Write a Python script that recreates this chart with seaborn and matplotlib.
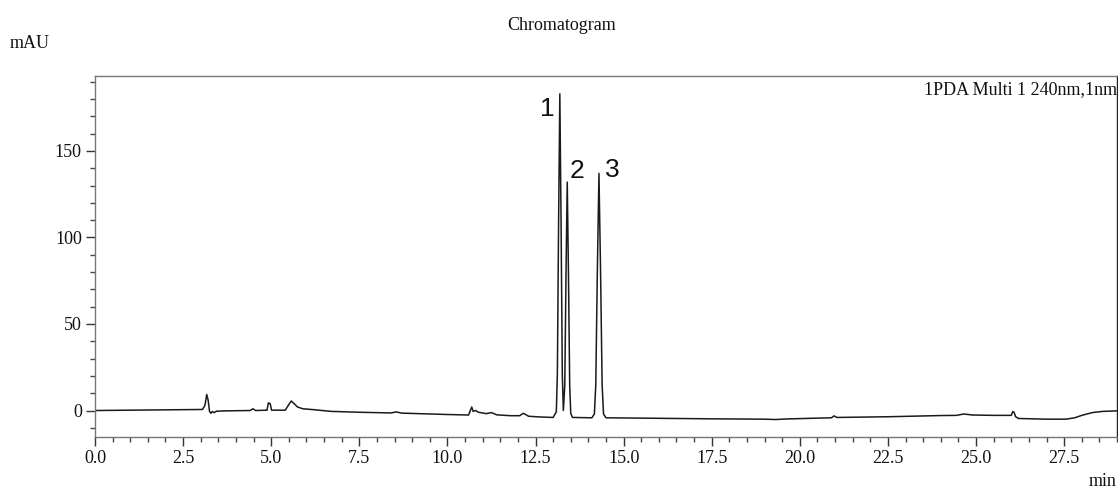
import matplotlib
matplotlib.use("Agg")
import matplotlib.pyplot as plt
from matplotlib.ticker import MultipleLocator, FormatStrFormatter
import seaborn as sns
import pandas as pd

# ---- data (time in min, signal in mAU) ----
time_min = [
    0.0, 1.0, 2.0, 3.05, 3.12, 3.17, 3.21, 3.25, 3.29, 3.33, 3.38, 3.45, 3.7,
    4.40, 4.48, 4.56, 4.88, 4.92, 4.97, 5.01, 5.40, 5.50, 5.57, 5.65, 5.75,
    5.9, 6.2, 6.7, 7.5, 8.4, 8.55, 8.7, 9.5, 10.0, 10.6, 10.65, 10.69, 10.73,
    10.80, 10.88, 11.1, 11.25, 11.4, 11.8, 12.05, 12.15, 12.22, 12.3, 12.6,
    13.0, 13.09, 13.12, 13.155, 13.19, 13.225, 13.26, 13.29, 13.33, 13.365,
    13.40, 13.435, 13.47, 13.50, 13.55, 14.10, 14.17, 14.21, 14.255, 14.30,
    14.345, 14.39, 14.43, 14.5, 15.0, 16.0, 17.5, 19.0, 19.3, 19.6, 20.5,
    20.9, 20.97, 21.05, 22.5, 24.0, 24.45, 24.65, 24.9, 25.5, 26.0, 26.04,
    26.08, 26.12, 26.2, 27.0, 27.55, 27.8, 28.0, 28.3, 28.6, 29.0,
]
signal_mau = [
    0.0, 0.2, 0.4, 0.6, 3.0, 9.3, 6.0, -0.5, -1.6, -0.6, -1.2, -0.4, -0.2,
    0.0, 1.0, 0.0, 0.2, 4.4, 4.0, 0.2, 0.2, 3.5, 5.5, 4.0, 2.0,
    1.0, 0.5, -0.5, -1.0, -1.4, -0.8, -1.5, -2.0, -2.3, -2.6, 0.0, 2.0, -0.5,
    0.0, -1.0, -1.8, -1.2, -2.5, -3.0, -3.0, -1.6, -2.3, -3.3, -3.7,
    -4.0, -0.8, 21.0, 109.0, 183.0, 109.0, 21.0, 0.0, 14.4, 78.6,
    132.0, 78.6, 14.4, -1.7, -4.0, -4.2, -2.0, 14.8, 81.4, 137.0,
    81.4, 14.8, -2.0, -4.2, -4.3, -4.5, -4.8, -5.0, -5.2, -4.9, -4.4,
    -4.2, -3.1, -4.0, -3.6, -2.9, -2.8, -2.0, -2.6, -2.8, -2.8, -0.6,
    -1.0, -3.5, -4.6, -5.0, -5.0, -4.2, -2.8, -1.2, -0.5, -0.2,
]
peak_labels = ["1", "2", "3"]
peak_times = [13.19, 13.40, 14.30]
peak_heights = [183.0, 132.0, 137.0]

df = pd.DataFrame({"time": time_min, "signal": signal_mau})

sns.set_theme(style="white")
plt.rcParams["font.family"] = ["Liberation Serif", "DejaVu Serif"]

fig = plt.figure(figsize=(11.18, 4.88), dpi=100)
ax = fig.add_axes([95 / 1118, 1 - 437 / 488, (1117 - 95) / 1118, (437 - 76) / 488])

sns.lineplot(data=df, x="time", y="signal", ax=ax, color="#1a1a1a",
             linewidth=1.1, sort=False, estimator=None)

ax.set_xlim(0, 29.0)
ax.set_ylim(-15.3, 193.3)
ax.set_xlabel("")
ax.set_ylabel("")

ax.xaxis.set_major_locator(MultipleLocator(2.5))
ax.xaxis.set_minor_locator(MultipleLocator(0.5))
ax.xaxis.set_major_formatter(FormatStrFormatter("%.1f"))
ax.yaxis.set_major_locator(MultipleLocator(50))
ax.yaxis.set_minor_locator(MultipleLocator(10))
ax.yaxis.set_major_formatter(FormatStrFormatter("%d"))

ax.tick_params(axis="both", which="major", direction="out", length=6.5,
               width=1.0, color="#333333", labelsize=13, labelcolor="#111111",
               bottom=True, left=True, pad=3)
ax.tick_params(axis="both", which="minor", direction="out", length=3.8,
               width=1.0, color="#444444", bottom=True, left=True)

for name, sp in ax.spines.items():
    sp.set_visible(True)
    sp.set_color("#777777")
    sp.set_linewidth(1.0)
ax.spines["right"].set_color("#222222")

offsets = [(-3.5, -11), (2, 8), (4, 2.5)]
aligns = ["right", "left", "left"]
for lab, t, h, off, al in zip(peak_labels, peak_times, peak_heights, offsets, aligns):
    ax.annotate(lab, xy=(t, h), xytext=off, textcoords="offset points",
                ha=al, va="center", fontsize=19, color="#111111",
                family=["Liberation Sans", "DejaVu Sans"])

ax.text(1.0, 0.985, "1PDA Multi 1 240nm,1nm", transform=ax.transAxes,
        ha="right", va="top", fontsize=13, color="#111111")

fig.text(562 / 1118, 1 - 26 / 488, "Chromatogram", ha="center", va="center",
         fontsize=13, color="#111111")
fig.text(10 / 1118, 1 - 44 / 488, "mAU", ha="left", va="center",
         fontsize=13, color="#111111")
fig.text(1117 / 1118, 1 - 481 / 488, "min", ha="right", va="center",
         fontsize=13, color="#111111")

fig.savefig("out.png", dpi=100)
